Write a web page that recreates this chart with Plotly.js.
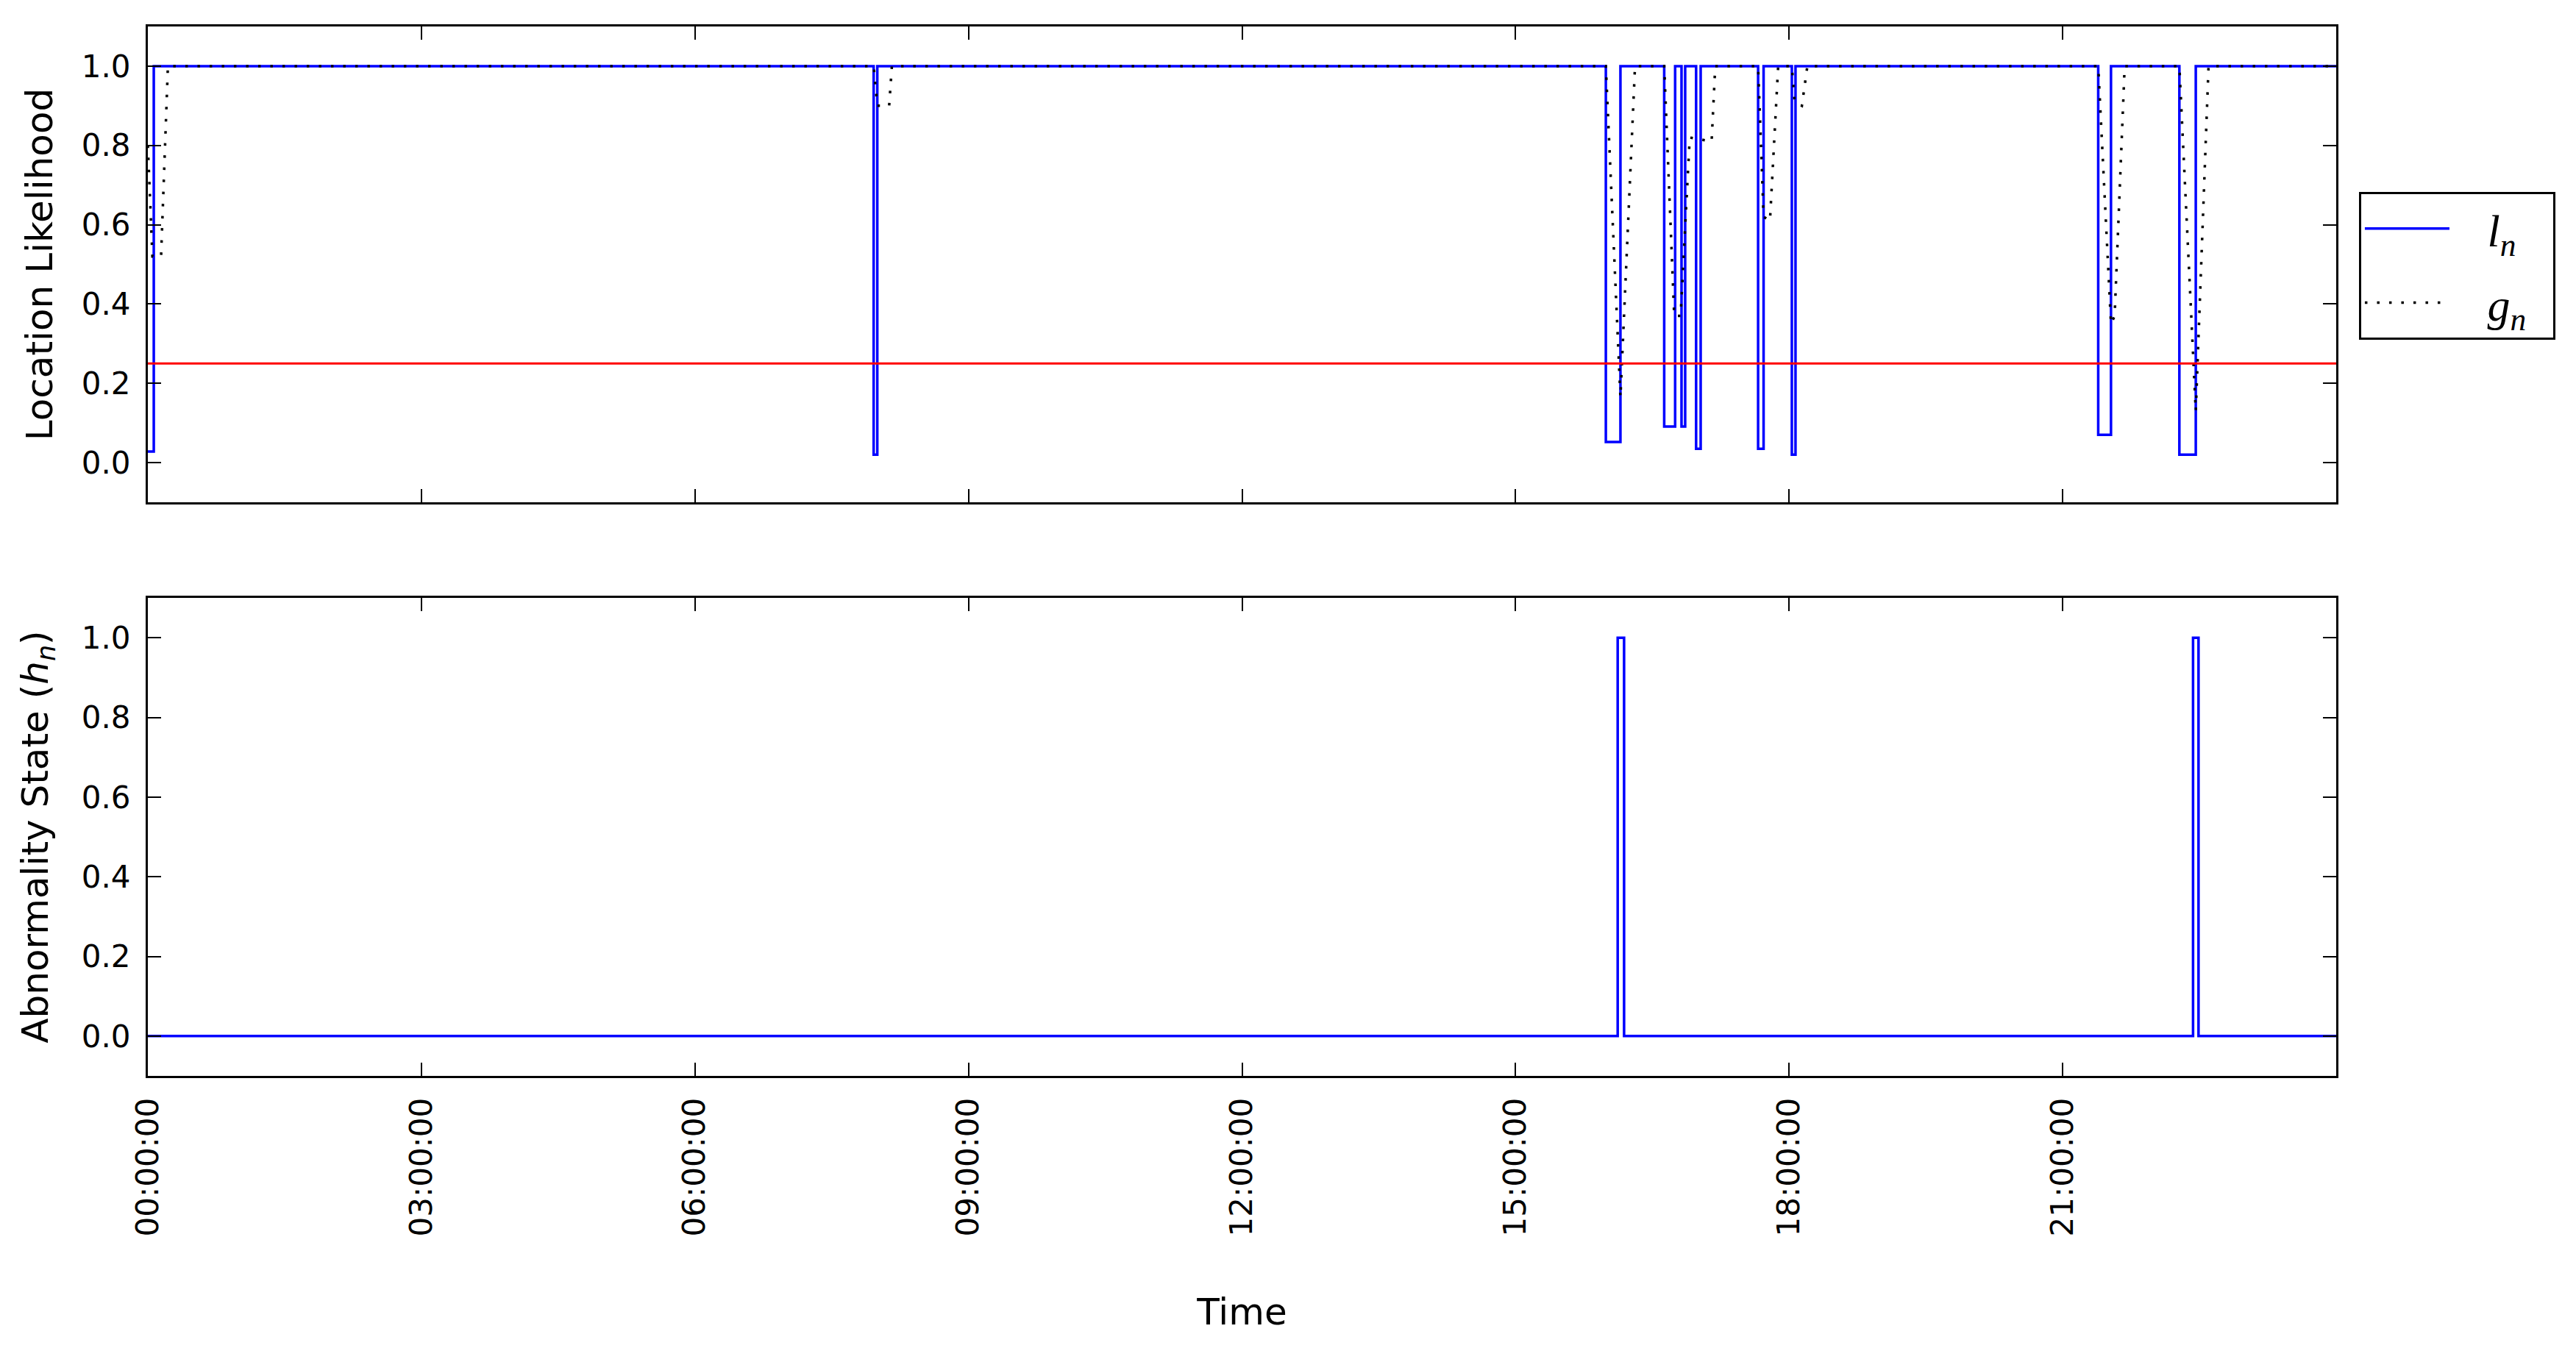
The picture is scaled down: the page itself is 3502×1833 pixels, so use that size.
<!DOCTYPE html>
<html>
<head>
<meta charset="utf-8">
<script src="https://cdn.plot.ly/plotly-3.0.1.min.js"></script>
<style>html,body{margin:0;padding:0;background:#fff;}#chart{width:3502px;height:1833px;}</style>
</head>
<body>
<div id="chart"></div>
<script>
// ---- data (time in hours since 00:00:00) ----
const lTime = [0, 0.065, 7.96, 8.00, 15.99, 16.15, 16.63, 16.75, 16.82, 16.86, 16.98, 17.03, 17.66, 17.72, 18.03, 18.07, 21.39, 21.53, 22.28, 22.46, 24];
const lValue = [0.028, 1, 0.02, 1, 0.052, 1, 0.091, 1, 0.091, 1, 0.035, 1, 0.035, 1, 0.02, 1, 0.07, 1, 0.02, 1, 1];

const gTime = [0, 0.05, 0.145, 0.22, 7.96, 8.00, 8.13, 8.16, 15.99, 16.15, 16.31, 16.63, 16.74, 16.81, 16.91, 17.15, 17.19, 17.66, 17.72, 17.79, 17.88, 18.03, 18.06, 18.14, 18.20, 21.39, 21.53, 21.57, 21.68, 22.28, 22.46, 22.60, 24];
const gValue = [0.80, 0.52, 0.52, 1.0, 1.0, 0.90, 0.90, 1.0, 1.0, 0.165, 1.0, 1.0, 0.37, 0.37, 0.82, 0.81, 1.0, 1.0, 0.62, 0.61, 1.0, 1.0, 0.91, 0.90, 1.0, 1.0, 0.35, 0.37, 1.0, 1.0, 0.13, 1.0, 1.0];

const hTime = [0, 16.12, 16.19, 22.43, 22.49, 24];
const hValue = [0, 1, 0, 1, 0, 0];

const thresholdTime = [0, 24];
const thresholdValue = [0.25, 0.25];

const tickHours = [0, 3, 6, 9, 12, 15, 18, 21];
const tickLabels = ["00:00:00", "03:00:00", "06:00:00", "09:00:00", "12:00:00", "15:00:00", "18:00:00", "21:00:00"];
const yTicks = [0, 0.2, 0.4, 0.6, 0.8, 1.0];

// ---- traces ----
const pad = '\u00a0\u00a0\u00a0';
const padEnd = '\u00a0\u00a0';
const traces = [
  {x: lTime, y: lValue, xaxis: 'x', yaxis: 'y', mode: 'lines', line: {shape: 'hv', color: '#0000ff', width: 3.5},
   name: pad + '<i>l</i><sub><i>n</i></sub>' + padEnd, legendgroup: 'a'},
  {x: gTime, y: gValue, xaxis: 'x', yaxis: 'y', mode: 'lines', line: {color: '#000000', width: 3.5, dash: '3.5px,13px'},
   name: pad + '<i>g</i><sub><i>n</i></sub>' + padEnd, legendgroup: 'b'},
  {x: thresholdTime, y: thresholdValue, xaxis: 'x', yaxis: 'y', mode: 'lines', line: {color: '#ff0000', width: 3},
   showlegend: false, hoverinfo: 'skip'},
  {x: hTime, y: hValue, xaxis: 'x2', yaxis: 'y2', mode: 'lines', line: {shape: 'hv', color: '#0000ff', width: 3.5},
   showlegend: false}
];

const axisCommon = {
  showline: true, linecolor: '#000', linewidth: 3, mirror: 'ticks',
  ticks: 'inside', ticklen: 18, tickwidth: 2, tickcolor: '#000',
  showgrid: false, zeroline: false,
  tickfont: {family: 'DejaVu Sans', size: 42, color: '#000'}
};

const layout = {
  width: 3502, height: 1833,
  paper_bgcolor: '#fff', plot_bgcolor: '#fff',
  margin: {l: 201, r: 326, t: 36, b: 370},
  font: {family: 'DejaVu Sans', color: '#000'},
  showlegend: true,
  legend: {
    x: 1.0104, y: 0.8423, xanchor: 'left', yanchor: 'top',
    bordercolor: '#000', borderwidth: 3, bgcolor: '#fff',
    font: {family: 'Liberation Serif', size: 62, color: '#000'},
    traceorder: 'grouped', tracegroupgap: 17, itemwidth: 115
  },
  xaxis: Object.assign({}, axisCommon, {
    domain: [0, 1], anchor: 'y', range: [0, 24], tickvals: tickHours, ticktext: tickLabels,
    showticklabels: false
  }),
  yaxis: Object.assign({}, axisCommon, {
    domain: [0.5466, 1], anchor: 'x', range: [-0.1, 1.1], tickvals: yTicks, tickformat: '.1f',
    ticklabelstandoff: 12,
    title: {text: 'Location Likelihood', font: {family: 'DejaVu Sans', size: 50, color: '#000'}, standoff: 24}
  }),
  xaxis2: Object.assign({}, axisCommon, {
    domain: [0, 1], anchor: 'y2', matches: 'x', range: [0, 24], tickvals: tickHours, ticktext: tickLabels,
    tickangle: -90, ticklabelstandoff: 10,
    title: {text: 'Time', font: {family: 'DejaVu Sans', size: 50, color: '#000'}, standoff: 86}
  }),
  yaxis2: Object.assign({}, axisCommon, {
    domain: [0, 0.4555], anchor: 'x2', range: [-0.1, 1.1], tickvals: yTicks, tickformat: '.1f',
    ticklabelstandoff: 12,
    title: {text: 'Abnormality State (<i>h</i><sub><i>n</i></sub>)', font: {family: 'DejaVu Sans', size: 50, color: '#000'}, standoff: 30}
  })
};

Plotly.newPlot('chart', traces, layout, {displayModeBar: false, staticPlot: true});
</script>
</body>
</html>
